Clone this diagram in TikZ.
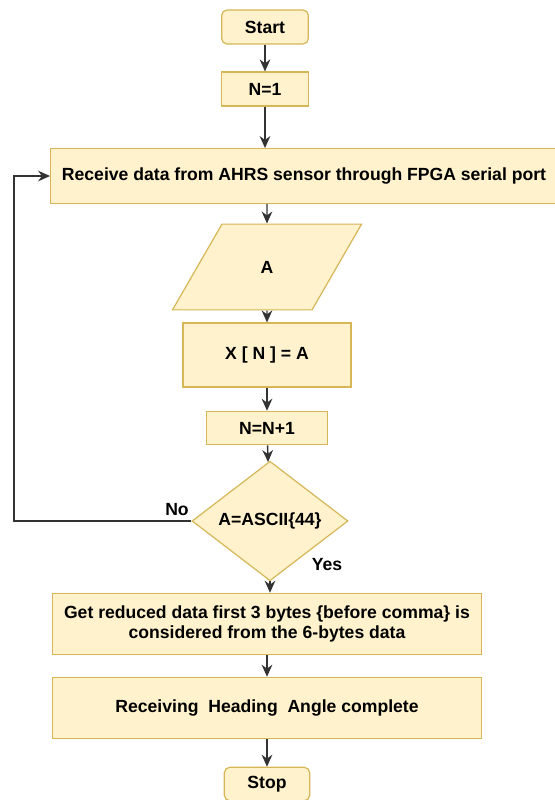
\documentclass[tikz,border=0pt]{standalone}
\usepackage{fontspec}
\setmainfont{Liberation Sans}
\usepackage{tikz}
\usetikzlibrary{positioning,shapes.geometric,arrows.meta}

\definecolor{boxfill}{HTML}{FFF2CC}
\definecolor{boxline}{HTML}{D6B656}
\definecolor{wire}{HTML}{333333}

\begin{document}
\begin{tikzpicture}
  [x=0.75pt,y=-0.75pt,
   every node/.style={font=\fontsize{13.2}{15.5}\selectfont\bfseries,text=black},
   box/.style={rectangle,draw=boxline,fill=boxfill,line width=0.9pt,inner sep=2pt},
   term/.style={box,rounded corners=4pt},
   iobox/.style={trapezium,trapezium left angle=60,trapezium right angle=120,
                 draw=boxline,fill=boxfill,line width=0.9pt,inner sep=0pt},
   decide/.style={diamond,draw=boxline,fill=boxfill,line width=0.9pt,inner sep=0pt},
   lbl/.style={draw=none,fill=none,inner sep=0pt},
   flow/.style={draw=wire,line width=1.1pt,-{Stealth[length=9pt,width=8pt]}}]

  \useasboundingbox (0,0) rectangle (555,800);

  \node[term,minimum width=65pt,minimum height=25.5pt] (start) at (265,27) {Start};
  \node[box,minimum width=65pt,minimum height=25.5pt] (n1) at (265,89) {N=1};
  \node[box,minimum width=380pt,minimum height=41pt] (recv) at (304,176)
    {Receive data from AHRS sensor through FPGA serial port};
  \node[iobox,minimum width=142pt,minimum height=52pt] (io) at (267,267) {A};
  \node[box,minimum width=126pt,minimum height=48pt] (xn) at (267,355) {X [ N ] = A};
  \node[box,minimum width=91pt,minimum height=25pt] (inc) at (267,428) {N=N+1};
  \node[decide,minimum width=117pt,minimum height=85pt] (dec) at (270,521) {A=ASCII\{44\}};
  \node[box,minimum width=322pt,minimum height=46pt,align=center] (red) at (267,624)
    {Get reduced data first 3 bytes \{before comma\} is\\considered from the 6-bytes data};
  \node[box,minimum width=322pt,minimum height=46pt] (head) at (267,708)
    {Receiving\ \ Heading\ \ Angle complete};
  \node[term,minimum width=64pt,minimum height=25pt] (stop) at (267,784) {Stop};
  \coordinate (loop) at (14,521);
  \node[lbl] (no) at (177,510) {No};
  \node[lbl] (yes) at (327,565) {Yes};

  \draw[flow] (start) -- (n1);
  \draw[flow] (n1) -- (n1 |- recv.north);
  \draw[flow] (recv.south -| io) -- (io);
  \draw[flow] (io) -- (xn);
  \draw[flow] (xn) -- (inc);
  \draw[flow] (inc) -- (dec);
  \draw[flow] (dec) -- (dec |- red.north);
  \draw[flow] (red) -- (head);
  \draw[flow] (head) -- (stop);
  \draw[flow] (dec.west) -- (loop) |- (recv.west);
\end{tikzpicture}
\end{document}
